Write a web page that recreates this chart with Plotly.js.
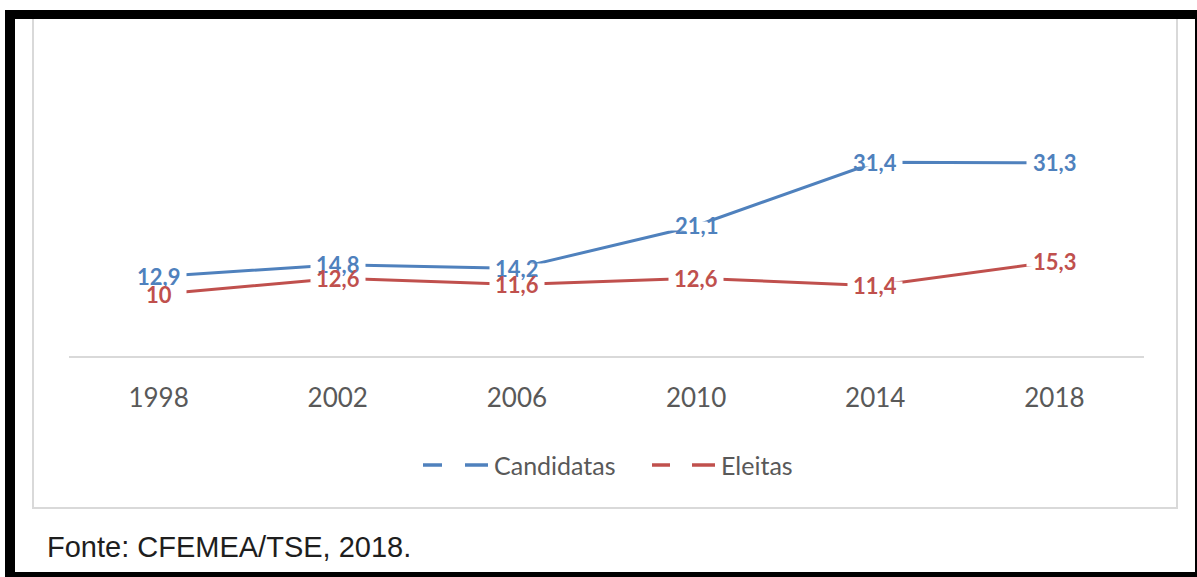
<!DOCTYPE html>
<html>
<head>
<meta charset="utf-8">
<script src="https://cdn.plot.ly/plotly-3.0.1.min.js"></script>
<style>
  html, body { margin: 0; padding: 0; background: #ffffff; }
  #chart { width: 1197px; height: 577px; }
</style>
</head>
<body>
<div id="chart"></div>
<script>
// ---- data ----
const years = ['1998', '2002', '2006', '2010', '2014', '2018'];
const candidatas = [12.9, 14.8, 14.2, 21.1, 31.4, 31.3];
const eleitas = [10, 12.6, 11.6, 12.6, 11.4, 15.3];
const seriesNames = ['Candidatas', 'Eleitas'];
const sourceNote = 'Fonte: CFEMEA/TSE, 2018.';

// ---- styles ----
const BLUE = '#4F81BD';
const RED = '#C0504D';
const GRAY_TXT = '#595959';

const W_PAGE = 1197, H_PAGE = 577;
const ML = 69, MR = 53, MT = 140, MB = 221;
const PW = W_PAGE - ML - MR, PH = H_PAGE - MT - MB;
const PX = p => (p - ML) / PW;
const PY = p => (H_PAGE - MB - p) / PH;

const fmt = v => String(v).split('.').join(',');

const traces = [
  { x: years, y: candidatas, name: seriesNames[0], type: 'scatter', mode: 'lines',
    line: { color: BLUE, width: 3 }, hoverinfo: 'skip', cliponaxis: false },
  { x: years, y: eleitas, name: seriesNames[1], type: 'scatter', mode: 'lines',
    line: { color: RED, width: 3 }, hoverinfo: 'skip', cliponaxis: false }
];

const annotations = [];
// white masks that break each line around its data labels
function addMasks(vals) {
  vals.forEach((v, i) => {
    annotations.push({
      xref: 'x', yref: 'y', x: i, y: v, text: ' ', showarrow: false,
      xanchor: 'center', yanchor: 'middle', width: 54, height: 8,
      bgcolor: '#ffffff', borderpad: 0, font: { size: 6 }
    });
  });
}
function addLabels(vals, color) {
  vals.forEach((v, i) => {
    annotations.push({
      xref: 'x', yref: 'y', x: i, y: v, text: fmt(v), showarrow: false,
      xanchor: 'center', yanchor: 'middle',
      font: { family: 'Lato, sans-serif', size: 22, color: color, weight: 'bold' }
    });
  });
}
addMasks(candidatas);
addMasks(eleitas);
addLabels(candidatas, BLUE);
addLabels(eleitas, RED);

// manual legend texts
annotations.push({ xref: 'paper', yref: 'paper', x: PX(492), y: PY(465), xanchor: 'left', yanchor: 'middle',
  text: seriesNames[0], showarrow: false, font: { family: 'Lato, sans-serif', size: 25, color: GRAY_TXT } });
annotations.push({ xref: 'paper', yref: 'paper', x: PX(719), y: PY(465), xanchor: 'left', yanchor: 'middle',
  text: seriesNames[1], showarrow: false, font: { family: 'Lato, sans-serif', size: 25, color: GRAY_TXT } });
// source note
annotations.push({ xref: 'paper', yref: 'paper', x: PX(45), y: PY(547), xanchor: 'left', yanchor: 'middle',
  text: sourceNote, showarrow: false, font: { family: 'Liberation Sans, Arial, sans-serif', size: 29, color: '#1e1e1e' } });

const shapes = [];
function rectPx(x0, y0, x1, y1, opts) {
  shapes.push(Object.assign({ type: 'rect', xref: 'paper', yref: 'paper', layer: 'above',
    x0: PX(x0), x1: PX(x1), y0: PY(y0), y1: PY(y1) }, opts));
}
function linePx(x0, y0, x1, y1, color, w) {
  shapes.push({ type: 'line', xref: 'paper', yref: 'paper', layer: 'above',
    x0: PX(x0), x1: PX(x1), y0: PY(y0), y1: PY(y1), line: { color: color, width: w } });
}
// inner chart box
rectPx(33, 15, 1177, 508, { line: { color: '#d9d9d9', width: 2 }, fillcolor: 'rgba(0,0,0,0)', layer: 'below' });
// legend keys
linePx(423, 465, 442, 465, BLUE, 3.5);
linePx(465, 465, 488, 465, BLUE, 3.5);
linePx(652, 465, 670, 465, RED, 3.5);
linePx(692, 465, 715, 465, RED, 3.5);
// outer black frame
rectPx(5, 10, 1197, 19, { line: { width: 0 }, fillcolor: '#000000' });
rectPx(5, 10, 15, 577, { line: { width: 0 }, fillcolor: '#000000' });
rectPx(5, 572, 1197, 577, { line: { width: 0 }, fillcolor: '#000000' });
rectPx(1195, 10, 1197, 577, { line: { width: 0 }, fillcolor: '#000000' });

const layout = {
  width: W_PAGE, height: H_PAGE,
  margin: { l: ML, r: MR, t: MT, b: MB, autoexpand: false },
  paper_bgcolor: '#ffffff', plot_bgcolor: '#ffffff',
  showlegend: false,
  xaxis: {
    type: 'category', range: [-0.5, years.length - 0.5], autorange: false,
    showgrid: false, zeroline: false,
    showline: true, linecolor: '#d9d9d9', linewidth: 2,
    ticks: '', ticklabelstandoff: 18,
    tickfont: { family: 'Lato, sans-serif', size: 26, color: GRAY_TXT }
  },
  yaxis: {
    range: [0, 35], autorange: false, showgrid: false, zeroline: false, showline: false,
    showticklabels: false, ticks: ''
  },
  annotations: annotations,
  shapes: shapes
};

Plotly.newPlot('chart', traces, layout, { displayModeBar: false, staticPlot: true });
</script>
</body>
</html>
